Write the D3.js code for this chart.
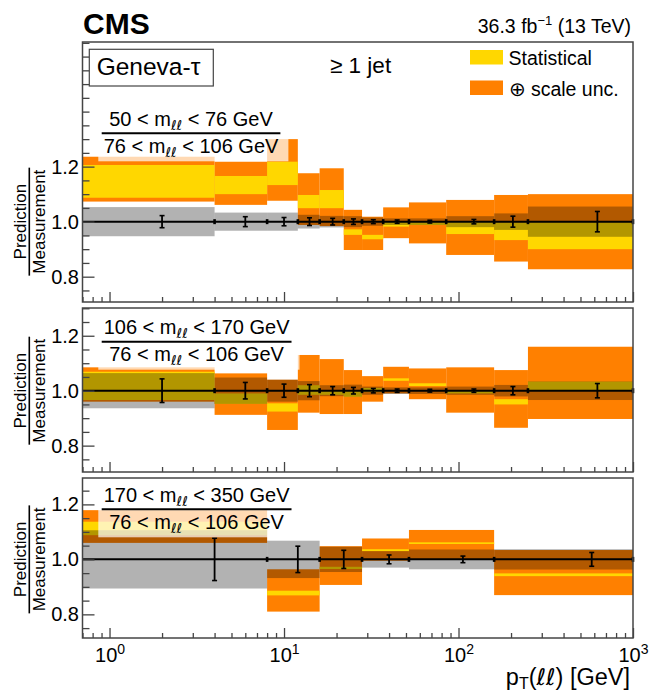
<!DOCTYPE html>
<html>
<head>
<meta charset="utf-8">
<script src="https://cdn.jsdelivr.net/npm/d3@7"></script>
<style>
body{margin:0;background:#fff}
svg{display:block}
text{font-family:"Liberation Sans",Arial,Helvetica,sans-serif;fill:#000}
</style>
</head>
<body>
<svg width="650" height="699"></svg>
<script>
// bin edges in pT(ll) [GeV]
const edges1 = [0, 4, 8, 12, 16, 22, 28, 37, 52, 85, 160, 250, 1000];
const edges3 = [0, 8, 16, 28, 52, 160, 1000];

// 50 < mll < 76
const statLo1  = [1.087, 1.100, 1.133, 1.049, 1.049, 0.952, 0.936, 0.982, 0.988, 0.955, 0.933, 0.900];
const statHi1  = [1.206, 1.166, 1.218, 1.097, 1.115, 0.972, 0.952, 0.999, 0.999, 0.999, 0.998, 0.998];
const scaleLo1 = [1.073, 1.061, 1.076, 0.988, 0.984, 0.897, 0.897, 0.940, 0.921, 0.879, 0.855, 0.827];
const scaleHi1 = [1.236, 1.218, 1.300, 1.176, 1.194, 1.043, 1.018, 1.052, 1.070, 1.079, 1.097, 1.100];
const measUnc1 = [0.053, 0.033, 0.033, 0.025, 0.021, 0.020, 0.015, 0.012, 0.012, 0.020, 0.030, 0.055];
const measErr1 = [0.022, 0.018, 0.015, 0.014, 0.012, 0.010, 0.007, 0.006, 0.005, 0.008, 0.020, 0.037];

// 106 < mll < 170
const statLo2  = [0.966, 0.952, 0.924, 0.985, 0.985, 0.978, 0.995, 1.036, 1.017, 0.990, 0.950, 1.000];
const statHi2  = [1.069, 0.990, 0.954, 1.020, 1.000, 1.000, 1.010, 1.045, 1.027, 0.999, 0.969, 1.033];
const scaleLo2 = [0.960, 0.912, 0.857, 0.920, 0.915, 0.915, 0.960, 0.990, 0.969, 0.920, 0.865, 0.897];
const scaleHi2 = [1.085, 1.063, 1.040, 1.130, 1.115, 1.075, 1.053, 1.087, 1.081, 1.085, 1.075, 1.160];
const measUnc2 = [0.064, 0.048, 0.040, 0.035, 0.020, 0.022, 0.015, 0.012, 0.012, 0.015, 0.021, 0.034];
const measErr2 = [0.043, 0.030, 0.024, 0.022, 0.015, 0.012, 0.008, 0.006, 0.005, 0.006, 0.015, 0.026];

// 170 < mll < 350
const statLo3  = [1.088, 0.869, 0.965, 1.030, 1.056, 0.939];
const statHi3  = [1.137, 0.886, 0.973, 1.037, 1.062, 0.949];
const scaleLo3 = [1.060, 0.810, 0.907, 0.995, 1.000, 0.870];
const scaleHi3 = [1.179, 0.964, 1.048, 1.076, 1.107, 1.034];
const measUnc3 = [0.106, 0.068, 0.046, 0.030, 0.036, 0.037];
const measErr3 = [0.077, 0.048, 0.033, 0.016, 0.012, 0.025];

const massBins = [["50", "76"], ["106", "170"], ["170", "350"]];
const refBin = ["76", "106"];
const yMajor = [0.8, 1.0, 1.2];
const xMajor = [1, 10, 100, 1000];
const legendLabels = ["Statistical", "\u2295 scale unc."];

const ORANGE = "#ff8000", YELLOW = "#ffd700";
const svg = d3.select("svg");

const x = d3.scaleLog().domain([0.7, 1000]).range([82.5, 633]);
const xPos = v => x(Math.max(v, 0.7));

const xMinor = [];
[0.1, 1, 10, 100].forEach(d => d3.range(2, 10).forEach(k => {
  const v = k * d;
  if (v >= 0.7 && v < 1000) xMinor.push(v);
}));

const panels = [
  {top: 42,  bottom: 302, ymin: 0.708, ymax: 1.653, edges: edges1,
   statLo: statLo1, statHi: statHi1, scaleLo: scaleLo1, scaleHi: scaleHi1, unc: measUnc1, err: measErr1},
  {top: 308, bottom: 472, ymin: 0.704, ymax: 1.301, edges: edges1,
   statLo: statLo2, statHi: statHi2, scaleLo: scaleLo2, scaleHi: scaleHi2, unc: measUnc2, err: measErr2},
  {top: 478, bottom: 638, ymin: 0.714, ymax: 1.296, edges: edges3,
   statLo: statLo3, statHi: statHi3, scaleLo: scaleLo3, scaleHi: scaleHi3, unc: measUnc3, err: measErr3}
];
const labelLineY = [133.3, 341.7, 509.3];

function massText(sel, lo, hi, size){
  sel.append("tspan").text(lo + " < m");
  sel.append("tspan").attr("font-size", size * 0.68).attr("dy", 4).attr("font-family", "DejaVu Sans").text("\u2113\u2113");
  sel.append("tspan").attr("dy", -4).text(" < " + hi + " GeV");
}

panels.forEach((p, k) => {
  const y = d3.scaleLinear().domain([p.ymin, p.ymax]).range([p.bottom, p.top]);
  const g = svg.append("g");
  const bins = d3.range(p.edges.length - 1);
  const bx = i => xPos(p.edges[i]);
  const bw = i => xPos(p.edges[i + 1]) - xPos(p.edges[i]);

  g.append("g").selectAll("rect").data(bins).join("rect")
    .attr("x", bx).attr("width", bw)
    .attr("y", i => y(p.scaleHi[i])).attr("height", i => y(p.scaleLo[i]) - y(p.scaleHi[i]))
    .attr("fill", ORANGE);
  g.append("g").selectAll("rect").data(bins).join("rect")
    .attr("x", bx).attr("width", bw)
    .attr("y", i => y(p.statHi[i])).attr("height", i => y(p.statLo[i]) - y(p.statHi[i]))
    .attr("fill", YELLOW);
  g.append("g").selectAll("rect").data(bins).join("rect")
    .attr("x", bx).attr("width", bw)
    .attr("y", i => y(1 + p.unc[i])).attr("height", i => y(1 - p.unc[i]) - y(1 + p.unc[i]))
    .attr("fill", "#000").attr("fill-opacity", 0.3);

  // measurement line and bin markers
  g.append("line").attr("x1", x(0.7)).attr("x2", x(1000))
    .attr("y1", y(1)).attr("y2", y(1)).attr("stroke", "#000").attr("stroke-width", 2);
  g.append("g").selectAll("rect").data(p.edges.slice(1)).join("rect")
    .attr("x", d => x(d) - 1.3).attr("width", 2.6)
    .attr("y", y(1) - 2.5).attr("height", 5).attr("fill", "#000");
  const eb = g.append("g").selectAll("g").data(bins).join("g")
    .attr("transform", i => `translate(${xPos((p.edges[i] + p.edges[i + 1]) / 2)},0)`);
  eb.append("line").attr("y1", i => y(1 + p.err[i])).attr("y2", i => y(1 - p.err[i]))
    .attr("stroke", "#000").attr("stroke-width", 1.8);
  eb.append("line").attr("x1", -2.5).attr("x2", 2.5).attr("y1", i => y(1 + p.err[i])).attr("y2", i => y(1 + p.err[i]))
    .attr("stroke", "#000").attr("stroke-width", 1.6);
  eb.append("line").attr("x1", -2.5).attr("x2", 2.5).attr("y1", i => y(1 - p.err[i])).attr("y2", i => y(1 - p.err[i]))
    .attr("stroke", "#000").attr("stroke-width", 1.6);

  // mass ratio label
  const ly = labelLineY[k];
  const lab = g.append("g");
  const box = lab.append("rect").attr("fill", "#fff").attr("fill-opacity", 0.7);
  const num = lab.append("text").attr("font-size", 20).attr("text-anchor", "middle").attr("y", ly - 7.5);
  massText(num, massBins[k][0], massBins[k][1], 20);
  const den = lab.append("text").attr("font-size", 20).attr("text-anchor", "middle").attr("y", ly + 19.5);
  massText(den, refBin[0], refBin[1], 20);
  const w = Math.max(num.node().getComputedTextLength(), den.node().getComputedTextLength());
  const lx0 = 101.7, lx1 = lx0 + w + 4;
  num.attr("x", (lx0 + lx1) / 2);
  den.attr("x", (lx0 + lx1) / 2);
  lab.append("line").attr("x1", lx0).attr("x2", lx1).attr("y1", ly).attr("y2", ly)
    .attr("stroke", "#000").attr("stroke-width", 2);
  box.attr("x", 98.3).attr("width", lx1 + 8 - 98.3).attr("y", ly - 30).attr("height", 58);

  // axes
  const ax = svg.append("g").attr("color", "#444");
  const yMinor = d3.range(Math.ceil(p.ymin / 0.05) * 0.05, p.ymax, 0.05)
    .filter(v => !yMajor.some(m => Math.abs(m - v) < 1e-6));
  ax.append("g").attr("transform", "translate(82.5,0)")
    .call(d3.axisLeft(y).tickValues(yMinor).tickSize(-7).tickFormat(""))
    .call(s => s.select(".domain").remove());
  ax.append("g").attr("transform", "translate(82.5,0)")
    .call(d3.axisLeft(y).tickValues(yMajor).tickSize(-12).tickPadding(3.5).tickFormat(d3.format(".1f")))
    .call(s => s.select(".domain").remove())
    .call(s => s.selectAll("text").attr("font-size", 20).attr("font-family", "Liberation Sans, Arial, sans-serif").attr("fill", "#000"));
  ax.append("g").attr("transform", `translate(0,${p.bottom})`)
    .call(d3.axisBottom(x).tickValues(xMinor).tickSize(-5).tickFormat(""))
    .call(s => s.select(".domain").remove());
  const xa = ax.append("g").attr("transform", `translate(0,${p.bottom})`)
    .call(d3.axisBottom(x).tickValues(xMajor).tickSize(-10).tickPadding(10).tickFormat(""))
    .call(s => s.select(".domain").remove());
  ax.selectAll("line").attr("stroke-width", 1.3);
  if (k === 2) {
    xa.selectAll(".tick text").attr("font-size", 20).attr("font-family", "Liberation Sans, Arial, sans-serif")
      .attr("fill", "#000")
      .each(function(d){
        const t = d3.select(this);
        t.append("tspan").text("10");
        t.append("tspan").attr("font-size", 14).attr("dy", -8).text(String(Math.round(Math.log10(d))));
      });
  }
  svg.append("rect").attr("x", 82.5).attr("y", p.top).attr("width", 633 - 82.5).attr("height", p.bottom - p.top)
    .attr("fill", "none").attr("stroke", "#444").attr("stroke-width", 1.5);

  // y title
  const yt = svg.append("g").attr("transform", `translate(0,${y(1)}) rotate(-90)`);
  yt.append("text").attr("font-size", 17).attr("text-anchor", "middle").attr("y", 25.5).text("Prediction");
  yt.append("text").attr("font-size", 17).attr("text-anchor", "middle").attr("y", 45).text("Measurement");
  yt.append("line").attr("x1", -54).attr("x2", 54).attr("y1", 29.3).attr("y2", 29.3)
    .attr("stroke", "#000").attr("stroke-width", 1.6);
});

// header
svg.append("text").attr("x", 83).attr("y", 34).attr("font-size", 30).attr("font-weight", "bold").text("CMS");
const lumi = svg.append("text").attr("x", 631).attr("y", 33).attr("font-size", 19.5).attr("text-anchor", "end");
lumi.append("tspan").text("36.3 fb");
lumi.append("tspan").attr("font-size", 13).attr("dy", -8).text("\u22121");
lumi.append("tspan").attr("dy", 8).text(" (13 TeV)");

// model box and jet label
svg.append("rect").attr("x", 89.3).attr("y", 49.3).attr("width", 124).attr("height", 36.7)
  .attr("fill", "#fff").attr("stroke", "#444").attr("stroke-width", 1.2);
svg.append("text").attr("x", 96.7).attr("y", 75).attr("font-size", 24.5).text("Geneva-\u03c4");
svg.append("text").attr("x", 330).attr("y", 73).attr("font-size", 22.5).text("\u2265 1 jet");

// legend
const legColors = [YELLOW, ORANGE];
const leg = svg.append("g").selectAll("g").data(legendLabels).join("g")
  .attr("transform", (d, i) => `translate(470,${50 + i * 30.5})`);
leg.append("rect").attr("width", 33).attr("height", 14.5).attr("fill", (d, i) => legColors[i]);
leg.append("text").attr("x", 38.5).attr("y", 15).attr("font-size", 19.5).text(d => d);

// x title
const xt = svg.append("text").attr("x", 630).attr("y", 685).attr("font-size", 23.5).attr("text-anchor", "end");
xt.append("tspan").text("p");
xt.append("tspan").attr("font-size", 16).attr("dy", 4).text("T");
xt.append("tspan").attr("dy", -4).text("(");
xt.append("tspan").attr("font-family", "DejaVu Sans").attr("font-size", 23).text("\u2113\u2113");
xt.append("tspan").text(") [GeV]");
</script>
</body>
</html>
